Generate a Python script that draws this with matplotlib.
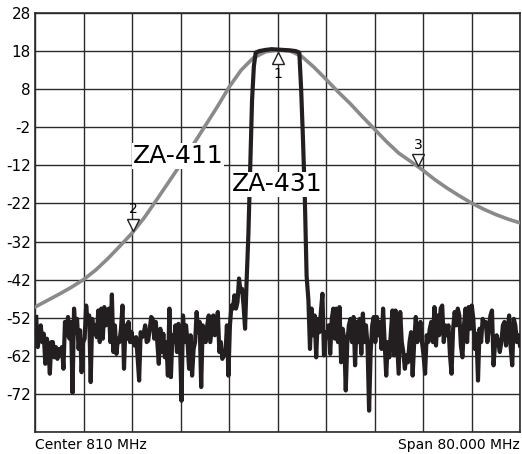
import numpy as np
import matplotlib
matplotlib.use("Agg")
import matplotlib.pyplot as plt

# ZA-411 response (grey), frequency in MHz, level in dB
za411_freq = [770, 772, 774, 776, 778, 780, 782, 784, 786, 788, 790, 792, 794, 796,
              798, 800, 802, 804, 806, 808, 810, 812, 814, 816, 818, 820, 822, 824,
              826, 828, 830, 832, 834, 836, 838, 840, 842, 844, 846, 848, 850]
za411_db = [-49.2, -47.5, -45.8, -44.0, -42.0, -39.5, -36.5, -33.2, -29.8, -25.8, -21.2,
            -16.5, -11.8, -6.8, -1.8, 3.2, 8.5, 13.0, 16.2, 17.8, 18.3, 18.1, 16.6, 13.8,
            10.6, 7.3, 4.2, 0.8, -2.5, -5.8, -8.8, -11.0, -13.3, -15.8, -18.0, -20.0,
            -21.9, -23.5, -24.9, -26.1, -27.1]

# ZA-431 response (black): noise floor left, passband, noise floor right
noise_left = [-51.8, -59.7, -57.1, -54.0, -58.4, -56.2, -64.1, -57.5, -59.7, -66.7,
              -58.4, -58.4, -62.4, -59.7, -62.8, -60.2, -61.9, -59.7, -65.4, -53.1,
              -56.6, -51.8, -57.5, -53.1, -71.7, -49.6, -55.8, -52.3, -60.2, -55.3,
              -66.3, -58.4, -57.5, -48.8, -53.1, -51.4, -68.9, -52.3, -56.2, -54.0,
              -57.1, -50.1, -58.4, -49.6, -57.5, -49.2, -54.0, -51.4, -49.6, -58.4,
              -45.9, -61.0, -54.0, -61.5, -57.5, -58.4, -54.9, -48.8, -65.4, -54.0,
              -57.5, -53.1, -58.4, -55.8, -58.4, -59.3, -57.1, -62.4, -68.5, -55.8,
              -57.1, -56.2, -54.0, -58.4, -58.0, -54.9, -51.8, -52.3, -57.5, -53.1,
              -58.4, -64.1, -54.9, -61.0, -56.2, -62.4, -58.4, -67.2, -49.6, -67.6,
              -56.6, -58.4, -54.0, -61.0, -53.6, -58.4, -73.8, -51.4, -58.4, -54.0,
              -58.4, -65.4, -56.6, -67.2, -60.2, -58.4, -50.5, -55.8, -53.1, -70.2,
              -54.0, -56.6, -58.4, -54.0, -51.4, -58.4, -54.9, -51.4, -56.6, -54.0,
              -50.5, -61.0, -58.4, -62.8, -61.0, -61.9, -54.0, -67.2, -54.0, -48.8,
              -49.6, -46.1, -49.6, -47.9, -41.7, -45.2, -44.4, -48.8, -54.9, -42.6]
passband_freq = [805.2, 805.5, 805.8, 806.1, 806.4, 807, 808, 809, 810, 811, 812, 813,
                 813.6, 813.9, 814.2, 814.5, 814.8]
passband_db = [-30.0, -12.0, 5.0, 14.0, 17.6, 18.0, 18.3, 18.5, 18.4, 18.3, 18.2, 18.0,
               17.6, 8.0, -5.0, -20.0, -41.0]
noise_right = [-47.4, -60.2, -49.6, -56.6, -51.4, -62.4, -52.3, -55.8, -50.5, -45.7,
               -61.9, -55.8, -57.1, -54.0, -61.5, -52.3, -49.6, -57.5, -49.6, -58.4,
               -49.2, -63.7, -54.9, -57.5, -71.1, -58.4, -54.0, -52.3, -58.4, -51.8,
               -64.5, -53.1, -58.4, -52.3, -61.5, -50.9, -58.4, -54.0, -59.3, -76.4,
               -61.0, -54.0, -51.8, -58.4, -51.8, -56.6, -53.1, -60.2, -49.6, -58.4,
               -67.2, -58.4, -62.4, -55.8, -50.1, -61.9, -50.1, -58.4, -66.7, -50.5,
               -58.4, -61.0, -65.4, -61.9, -63.7, -58.4, -55.8, -67.2, -58.4, -51.8,
               -58.4, -56.6, -53.1, -58.4, -61.9, -66.7, -56.6, -58.4, -54.9, -53.1,
               -58.4, -49.2, -59.3, -51.4, -56.6, -49.6, -48.8, -58.4, -54.0, -56.6,
               -54.0, -61.9, -66.7, -54.9, -50.5, -54.0, -49.6, -51.4, -59.3, -62.4,
               -54.0, -49.6, -58.4, -49.2, -54.9, -48.8, -52.3, -60.2, -56.2, -68.5,
               -54.9, -58.4, -52.3, -54.0, -53.1, -58.4, -54.9, -51.4, -50.1, -64.5,
               -58.4, -56.6, -58.4, -61.0, -58.4, -54.0, -53.1, -59.3, -55.8, -51.4,
               -59.7, -64.5, -52.3, -54.0, -58.4, -56.6, -59.3]

# markers: (number, frequency)
marker_ids = ["1", "2", "3"]
marker_freq = [810.0, 786.2, 833.2]

yticks = [28, 18, 8, -2, -12, -22, -32, -42, -52, -62, -72, -82]

freq_left = np.linspace(770.2, 804.9, len(noise_left))
freq_right = np.linspace(815.1, 850.0, len(noise_right))
za431_freq = np.concatenate([freq_left, passband_freq, freq_right])
za431_db = np.concatenate([noise_left, passband_db, noise_right])

plt.rcParams['font.family'] = ['DejaVu Sans']

fig = plt.figure(figsize=(5.22, 4.54), dpi=100)
ax = fig.add_axes([35 / 522, 22 / 454, 485 / 522, 419 / 454])

ax.plot(za411_freq, za411_db, color='#8a8a8a', lw=2.6, zorder=3)
ax.plot(za431_freq, za431_db, color='#231f20', lw=3.0, zorder=4, solid_joinstyle='round')

ax.set_xlim(770, 850)
ax.set_ylim(-82, 28)
ax.set_xticks(np.arange(770, 851, 8))
ax.set_yticks(yticks)
ax.set_yticklabels([str(v) for v in yticks[:-1]] + [''], fontsize=11)
ax.set_xticklabels([])
ax.tick_params(length=0, pad=3)
ax.grid(True, color='#2a2a2a', lw=1.0)
ax.set_axisbelow(True)
for s in ax.spines.values():
    s.set_color('#2a2a2a')
    s.set_linewidth(1.2)

# markers sit on the ZA-411 curve
for mid, mf in zip(marker_ids, marker_freq):
    level = np.interp(mf, za411_freq, za411_db)
    if mid == "1":
        ax.plot(mf, level - 2.0, marker='^', ms=8, mfc='white', mec='#231f20', mew=1.0, zorder=6)
        ax.text(mf, level - 4.5, mid, ha='center', va='top', fontsize=10, zorder=6)
    else:
        ax.plot(mf, level + 1.8, marker='v', ms=8, mfc='white', mec='#231f20', mew=1.0, zorder=6)
        ax.text(mf, level + 4.0, mid, ha='center', va='bottom', fontsize=10, zorder=6)

ax.text(793.6, -9.5, 'ZA-411', fontsize=18, ha='center', va='center', zorder=5,
        bbox=dict(facecolor='white', edgecolor='none', pad=0.5))
ax.text(809.9, -17.0, 'ZA-431', fontsize=18, ha='center', va='center', zorder=5,
        bbox=dict(facecolor='white', edgecolor='none', pad=0.5))

fig.text(35 / 522, 1 - 445 / 454, 'Center 810 MHz', fontsize=10, ha='left', va='center')
fig.text(520 / 522, 1 - 445 / 454, 'Span 80.000 MHz', fontsize=10, ha='right', va='center')

plt.savefig('out.png', dpi=100)
